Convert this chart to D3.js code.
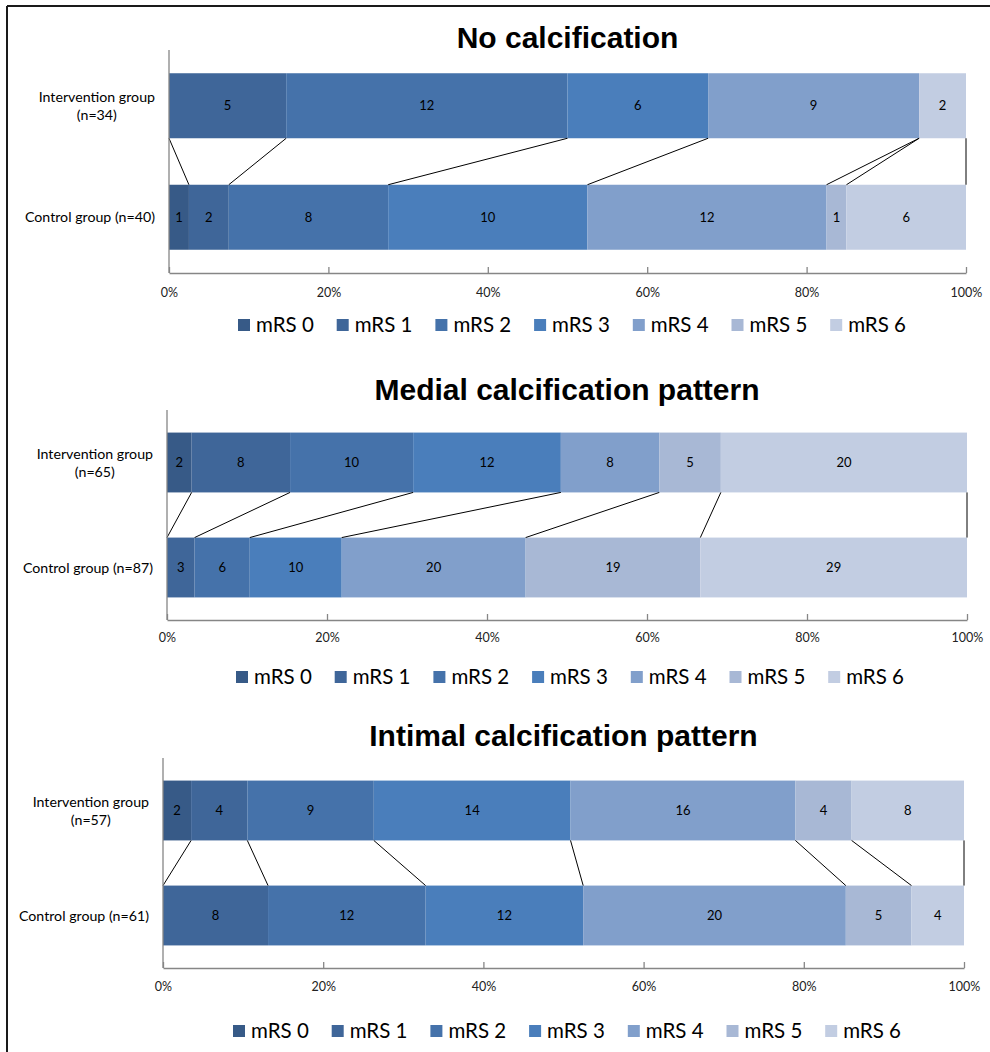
<!DOCTYPE html>
<html>
<head>
<meta charset="utf-8">
<script src="https://cdn.jsdelivr.net/npm/d3@7"></script>
<style>
  html, body { margin: 0; padding: 0; background: #fff; }
  svg { display: block; }
</style>
</head>
<body>
<script>
// ---------------- DATA ----------------
const categories = ["mRS 0", "mRS 1", "mRS 2", "mRS 3", "mRS 4", "mRS 5", "mRS 6"];
const colors = ["#375a87", "#3f6699", "#4572aa", "#4a7ebb", "#819fcb", "#a8b8d5", "#c2cde2"];

const panelTitles = ["No calcification", "Medial calcification pattern", "Intimal calcification pattern"];

const noCalcIntervention = [0, 5, 12, 6, 9, 0, 2];
const noCalcControl      = [1, 2, 8, 10, 12, 1, 6];
const medialIntervention = [2, 8, 10, 12, 8, 5, 20];
const medialControl      = [0, 3, 6, 10, 20, 19, 29];
const intimalIntervention = [2, 4, 9, 14, 16, 4, 8];
const intimalControl      = [0, 8, 12, 12, 20, 5, 4];

const noCalcLabels  = [["Intervention group", "(n=34)"], ["Control group (n=40)"]];
const medialLabels  = [["Intervention group", "(n=65)"], ["Control group (n=87)"]];
const intimalLabels = [["Intervention group", "(n=57)"], ["Control group (n=61)"]];

const tickValues = [0, 0.2, 0.4, 0.6, 0.8, 1.0];

// ---------------- LAYOUT ----------------
const W = 990, H = 1052;
const panels = [
  { title: panelTitles[0], series: [noCalcIntervention, noCalcControl], labels: noCalcLabels,
    x0: 169, x1: 966, top: 50, bottom: 273, titleY: 48, tickY: 297, legendY: 325, legendX: 238, labelRight: 155, pad: 0.417 },
  { title: panelTitles[1], series: [medialIntervention, medialControl], labels: medialLabels,
    x0: 167, x1: 967, top: 410, bottom: 620, titleY: 400, tickY: 642, legendY: 677, legendX: 236, labelRight: 153, pad: 0.43 },
  { title: panelTitles[2], series: [intimalIntervention, intimalControl], labels: intimalLabels,
    x0: 163, x1: 964, top: 758, bottom: 968, titleY: 746, tickY: 991, legendY: 1031, legendX: 233, labelRight: 149, pad: 0.43 }
];

const svg = d3.select("body").append("svg").attr("width", W).attr("height", H);

// outer frame (only top and left visible)
svg.append("line").attr("x1", 7).attr("y1", 6).attr("x2", W).attr("y2", 6)
  .attr("stroke", "#1a1a1a").attr("stroke-width", 2);
svg.append("line").attr("x1", 7).attr("y1", 6).attr("x2", 7).attr("y2", H)
  .attr("stroke", "#1a1a1a").attr("stroke-width", 2);

const FONT = "Lato, 'Open Sans', sans-serif";

panels.forEach(p => {
  const g = svg.append("g");
  const x = d3.scaleLinear().domain([0, 1]).range([p.x0, p.x1]);
  const groupIdx = [0, 1];
  const y = d3.scaleBand().domain(groupIdx).range([p.top, p.bottom])
    .paddingInner(p.pad).paddingOuter(p.pad / 2);

  // title
  g.append("text").attr("x", (p.x0 + p.x1) / 2).attr("y", p.titleY)
    .attr("text-anchor", "middle")
    .attr("font-family", "'Liberation Sans', Arial, sans-serif")
    .attr("font-weight", "bold").attr("font-size", 30).attr("fill", "#000")
    .text(p.title);

  // stacked data
  const stacked = p.series.map((vals, gi) => {
    const total = d3.sum(vals);
    let acc = 0;
    return vals.map((v, ci) => {
      const s = acc / total; acc += v;
      return { gi, ci, v, s, e: acc / total };
    });
  });

  // bars
  stacked.forEach(row => {
    g.selectAll(null).data(row.filter(d => d.v > 0)).enter().append("rect")
      .attr("x", d => x(d.s)).attr("width", d => x(d.e) - x(d.s))
      .attr("y", d => y(d.gi)).attr("height", y.bandwidth())
      .attr("fill", d => colors[d.ci]);
  });

  // connector lines
  const yTopBottom = y(0) + y.bandwidth();
  const yBotTop = y(1);
  g.selectAll(null).data(categories.map((c, ci) => ci)).enter().append("line")
    .attr("x1", ci => x(stacked[0][ci].e)).attr("y1", yTopBottom)
    .attr("x2", ci => x(stacked[1][ci].e)).attr("y2", yBotTop)
    .attr("stroke", "#000").attr("stroke-width", 1);

  // data labels
  stacked.forEach(row => {
    g.selectAll(null).data(row.filter(d => d.v > 0)).enter().append("text")
      .attr("x", d => (x(d.s) + x(d.e)) / 2)
      .attr("y", d => y(d.gi) + y.bandwidth() / 2 + 4.5)
      .attr("text-anchor", "middle").attr("font-family", FONT)
      .attr("font-size", 13).attr("fill", "#000")
      .text(d => d.v);
  });

  // x axis
  const xAxis = d3.axisBottom(x).tickValues(tickValues).tickFormat(d3.format(".0%"))
    .tickSizeInner(-6).tickSizeOuter(0).tickPadding(0);
  const ax = g.append("g").attr("transform", `translate(0,${p.bottom})`).call(xAxis);
  ax.attr("font-size", null).attr("font-family", null);
  ax.select(".domain").attr("stroke", "#868686").attr("stroke-width", 1.3);
  ax.selectAll(".tick line").attr("stroke", "#868686").attr("stroke-width", 1.3);
  ax.selectAll(".tick text").attr("y", p.tickY - p.bottom).attr("dy", null)
    .attr("font-family", FONT).attr("font-size", 12.5).attr("fill", "#222");

  // y axis line
  g.append("line").attr("x1", p.x0).attr("x2", p.x0).attr("y1", p.top).attr("y2", p.bottom)
    .attr("stroke", "#868686").attr("stroke-width", 1.3);

  // category labels
  p.labels.forEach((lines, gi) => {
    const t = g.append("text").attr("font-family", FONT).attr("font-size", 14.2).attr("fill", "#000");
    const cy = y(gi) + y.bandwidth() / 2;
    const lh = 18;
    lines.forEach((ln, li) => {
      t.append("tspan").attr("y", cy + 5 + (li - (lines.length - 1) / 2) * lh).text(ln);
    });
    const spans = t.selectAll("tspan").nodes();
    const maxW = d3.max(spans, n => n.getComputedTextLength());
    t.attr("text-anchor", "middle");
    t.selectAll("tspan").attr("x", p.labelRight - maxW / 2);
  });

  // legend
  const step = 98.7;
  const lg = g.append("g");
  categories.forEach((c, ci) => {
    const lx = p.legendX + ci * step;
    lg.append("rect").attr("x", lx).attr("y", p.legendY - 6).attr("width", 12).attr("height", 12)
      .attr("fill", colors[ci]);
    lg.append("text").attr("x", lx + 18).attr("y", p.legendY + 7)
      .attr("font-family", FONT).attr("font-size", 20.5).attr("fill", "#000").text(c);
  });
});
</script>
</body>
</html>
